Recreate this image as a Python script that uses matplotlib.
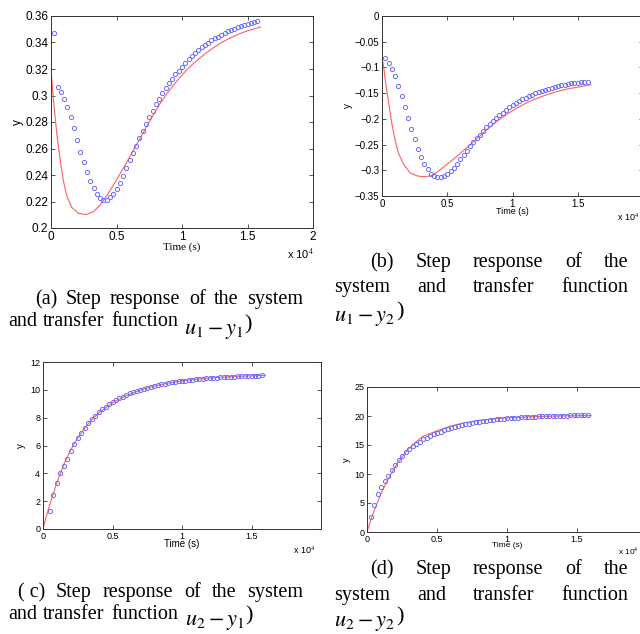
import numpy as np
import matplotlib
matplotlib.use("Agg")
import matplotlib.pyplot as plt

# ---------------- data ----------------
# sampling grid of the measured system response (s)
t_circ = np.arange(1, 64) * 250.0

# (a) u1 -> y1
a_sys = [0.3469, 0.3067, 0.3024, 0.2974, 0.2916, 0.2835, 0.2752, 0.2664, 0.2576, 0.2496,
         0.2420, 0.2355, 0.2299, 0.2257, 0.2229, 0.2214, 0.2214, 0.2231, 0.2257, 0.2292,
         0.2337, 0.2392, 0.2450, 0.2513, 0.2563, 0.2621, 0.2679, 0.2732, 0.2785, 0.2835,
         0.2886, 0.2933, 0.2974, 0.3016, 0.3057, 0.3092, 0.3127, 0.3160, 0.3187, 0.3218,
         0.3248, 0.3273, 0.3298, 0.3323, 0.3343, 0.3363, 0.3381, 0.3399, 0.3416, 0.3431,
         0.3444, 0.3459, 0.3472, 0.3484, 0.3494, 0.3504, 0.3514, 0.3525, 0.3532, 0.3540,
         0.3547, 0.3552, 0.3560]
a_tf_t = [0, 180, 430, 690, 940, 1200, 1580, 2090, 2680, 3240, 3750, 4260, 4770, 5280,
          5790, 6300, 6810, 7320, 7830, 8340, 8850, 9360, 9870, 10380, 10890, 11400,
          11910, 12420, 12930, 13440, 13950, 14460, 14970, 15480, 16000]
a_tf = [0.3200, 0.2974, 0.2722, 0.2521, 0.2357, 0.2244, 0.2156, 0.2111, 0.2101, 0.2123,
        0.2174, 0.2244, 0.2325, 0.2410, 0.2498, 0.2589, 0.2679, 0.2770, 0.2858, 0.2941,
        0.3014, 0.3079, 0.3140, 0.3195, 0.3243, 0.3286, 0.3326, 0.3361, 0.3394, 0.3422,
        0.3447, 0.3469, 0.3487, 0.3502, 0.3517]

# (b) u1 -> y2
b_sys = [-0.0815, -0.0912, -0.1022, -0.1164, -0.1352, -0.1559, -0.1772, -0.1979, -0.2193, -0.2387,
         -0.2581, -0.2736, -0.2878, -0.2982, -0.3066, -0.3118, -0.3137, -0.3137, -0.3118, -0.3073,
         -0.3021, -0.2956, -0.2878, -0.2788, -0.2704, -0.2620, -0.2529, -0.2445, -0.2374, -0.2309,
         -0.2232, -0.2161, -0.2102, -0.2051, -0.1992, -0.1934, -0.1882, -0.1831, -0.1779, -0.1734,
         -0.1695, -0.1656, -0.1617, -0.1585, -0.1552, -0.1527, -0.1501, -0.1475, -0.1449, -0.1430,
         -0.1410, -0.1391, -0.1371, -0.1358, -0.1346, -0.1333, -0.1320, -0.1307, -0.1301, -0.1294,
         -0.1288, -0.1283, -0.1278]
b_tf_t = [0, 127, 250, 500, 750, 1000, 1250, 1650, 2150, 2700, 3200, 3700, 4200, 4700, 5200,
          5700, 6200, 6700, 7200, 7700, 8200, 8700, 9200, 9700, 10200, 10700, 11200, 11700,
          12200, 12700, 13200, 13700, 14200, 14700, 15200, 16000]
b_tf = [-0.080, -0.099, -0.125, -0.167, -0.209, -0.241, -0.266, -0.288, -0.305, -0.311,
        -0.3125, -0.311, -0.304, -0.294, -0.284, -0.2735, -0.2625, -0.2515, -0.240, -0.229,
        -0.2175, -0.207, -0.1975, -0.189, -0.181, -0.174, -0.1675, -0.162, -0.157, -0.1525,
        -0.1485, -0.145, -0.142, -0.1395, -0.1375, -0.1335]

# (c) u2 -> y1 (first visible sample at t=500)
c_sys = [1.31, 2.43, 3.34, 4.01, 4.56, 5.04, 5.61, 6.13, 6.56, 6.92,
         7.28, 7.61, 7.88, 8.14, 8.38, 8.59, 8.78, 8.95, 9.12, 9.26,
         9.40, 9.52, 9.63, 9.74, 9.83, 9.92, 10.00, 10.08, 10.15, 10.22,
         10.28, 10.34, 10.39, 10.44, 10.49, 10.53, 10.57, 10.61, 10.64, 10.67,
         10.70, 10.73, 10.76, 10.78, 10.80, 10.82, 10.84, 10.86, 10.88, 10.89,
         10.91, 10.92, 10.93, 10.95, 10.96, 10.97, 10.98, 10.99, 11.00, 11.01,
         11.02, 11.03]
c_tf_t = [0, 250, 500, 1000, 1500, 2000, 2500, 3000, 3500, 4000, 5000, 6000, 7000,
          8000, 9000, 10000, 11000, 12000, 13000, 14000, 15000, 16000]
c_tf = [0, 0.95, 1.80, 3.35, 4.65, 5.70, 6.55, 7.25, 7.85, 8.33, 9.08, 9.58, 9.98,
        10.27, 10.48, 10.64, 10.76, 10.85, 10.92, 10.97, 11.01, 11.04]

# (d) u2 -> y2
d_sys = [2.56, 4.67, 6.50, 7.69, 8.77, 9.69, 10.71, 11.62, 12.36, 13.11,
         13.73, 14.30, 14.76, 15.21, 15.56, 15.95, 16.24, 16.58, 16.87, 17.09,
         17.32, 17.55, 17.72, 17.95, 18.12, 18.29, 18.40, 18.58, 18.69, 18.80,
         18.92, 19.03, 19.09, 19.20, 19.26, 19.37, 19.43, 19.49, 19.54, 19.60,
         19.65, 19.69, 19.73, 19.77, 19.81, 19.84, 19.87, 19.90, 19.92, 19.95,
         19.97, 19.99, 20.01, 20.03, 20.05, 20.06, 20.08, 20.09, 20.10, 20.11,
         20.12, 20.13, 20.14]
d_tf_t = [0, 250, 500, 1000, 1500, 2000, 2500, 3000, 3500, 4000, 5000, 6000, 7000,
          8000, 9000, 10000, 12000, 14000, 16000]
d_tf = [0, 1.85, 3.60, 6.60, 9.10, 11.20, 12.95, 14.40, 15.55, 16.50, 17.45, 18.30,
        18.85, 19.25, 19.50, 19.68, 19.90, 20.02, 20.08]

a_yticks = [0.2, 0.22, 0.24, 0.26, 0.28, 0.3, 0.32, 0.34, 0.36]
b_yticks = [-0.35, -0.3, -0.25, -0.2, -0.15, -0.1, -0.05, 0]
c_yticks = [0, 2, 4, 6, 8, 10, 12]
d_yticks = [0, 5, 10, 15, 20, 25]
x_ticks = [0, 0.5, 1, 1.5, 2]

captions = {
    "a": ["(a) Step response of the system", "and transfer function", r"$u_1 - y_1$"],
    "b": ["(b) Step response of the", "system and transfer function", r"$u_1 - y_2$"],
    "c": ["( c) Step response of the system", "and transfer function", r"$u_2 - y_1$"],
    "d": ["(d) Step response of the", "system and transfer function", r"$u_2 - y_2$"],
}

# ---------------- figure ----------------
W, H = 640, 634
plt.rcParams["mathtext.fontset"] = "stix"
fig = plt.figure(figsize=(W / 100, H / 100), dpi=100)

SANS = "Liberation Sans"
SERIF = "Liberation Serif"
BLUE = "#6b6bff"
RED = "#ff5f5f"


def px_axes(l, t, r, b):
    return fig.add_axes([l / W, 1 - b / H, (r - l) / W, (b - t) / H])


def fmt(v):
    s = "%g" % v
    return s.replace("-", "\u2212")


def style(ax, ylim, yticks, tick_fs, xlabels):
    ax.set_xlim(0, 2)
    ax.set_ylim(*ylim)
    ax.set_xticks(x_ticks)
    ax.set_xticklabels(xlabels, fontsize=tick_fs, family=SANS)
    ax.set_yticks(yticks)
    ax.set_yticklabels([fmt(v) for v in yticks], fontsize=tick_fs, family=SANS)
    ax.tick_params(direction="in", length=3, width=0.6, top=True, right=True,
                   pad=2, color="#333333")
    for s in ax.spines.values():
        s.set_linewidth(0.7)
        s.set_color("#333333")


def draw(ax, sys_t, sys_v, tf_t, tf_v):
    ax.plot(np.asarray(tf_t) / 1e4, tf_v, color=RED, lw=0.8)
    ax.plot(np.asarray(sys_t) / 1e4, sys_v, "o", mfc="none", mec=BLUE,
            ms=3.0, mew=0.7)


# (a)
ax_a = px_axes(51, 16, 313, 228)
draw(ax_a, t_circ, a_sys, a_tf_t, a_tf)
style(ax_a, (0.2, 0.36), a_yticks, 8.5, ["0", "0.5", "1", "1.5", "2"])
ax_a.set_xlabel("Time (s)", family=SERIF, fontsize=8, labelpad=0)
ax_a.set_ylabel("y", family=SANS, fontsize=8.5, labelpad=1)

# (b)
ax_b = px_axes(382, 16, 643, 196)
draw(ax_b, t_circ, b_sys, b_tf_t, b_tf)
style(ax_b, (-0.35, 0), b_yticks, 7, ["0", "0.5", "1", "1.5", ""])
ax_b.set_xlabel("Time (s)", family=SANS, fontsize=6.5, labelpad=-1)
ax_b.set_ylabel("y", family=SANS, fontsize=7, labelpad=1)

# (c)
ax_c = px_axes(43, 362, 321, 529)
draw(ax_c, t_circ[1:], c_sys, c_tf_t, c_tf)
style(ax_c, (0, 12), c_yticks, 6.5, ["0", "0.5", "1", "1.5", ""])
ax_c.set_xlabel("Time (s)", family=SANS, fontsize=7, labelpad=-1)
ax_c.set_ylabel("y", family=SANS, fontsize=7, labelpad=3)

# (d)
ax_d = px_axes(367, 387, 647, 532)
draw(ax_d, t_circ, d_sys, d_tf_t, d_tf)
style(ax_d, (0, 25), d_yticks, 6.5, ["0", "0.5", "1", "1.5", ""])
ax_d.set_xlabel("Time (s)", family=SANS, fontsize=6, labelpad=-1)
ax_d.set_ylabel("y", family=SANS, fontsize=6.5, labelpad=2)


def ftext(x, y, s, **kw):
    return fig.text(x / W, 1 - y / H, s, **kw)


# exponent labels
ftext(287, 259, r"x 10$^{4}$", family=SANS, fontsize=8, va="baseline")
ftext(617, 221, r"x 10$^{4}$", family=SANS, fontsize=6.5, va="baseline")
ftext(293, 554, r"x 10$^{4}$", family=SANS, fontsize=6.5, va="baseline")
ftext(618, 555, r"x 10$^{4}$", family=SANS, fontsize=6, va="baseline")

# captions
CAP = 14.5
MATH = 16
renderer = fig.canvas.get_renderer()


def justify(text, x0, x1, yb):
    if text.startswith("( "):
        words = ["( c)"] + text.split(" ")[2:]
    else:
        words = text.split(" ")
    objs = [ftext(0, yb, w, family=SERIF, fontsize=CAP, va="baseline") for w in words]
    widths = [o.get_window_extent(renderer).width for o in objs]
    gap = (x1 - x0 - sum(widths)) / max(len(words) - 1, 1)
    x = x0
    for o, w in zip(objs, widths):
        o.set_position((x / W, 1 - yb / H))
        x += w + gap


def mathpart(s, x, yb, drop=8):
    m = ftext(x, yb + drop, s, fontsize=MATH, va="baseline")
    wm = m.get_window_extent(renderer).width
    ftext(x + wm + 1, yb + drop - 5, ")", family=SERIF, fontsize=MATH, va="baseline")


# (a)
justify(captions["a"][0], 35, 303, 304)
justify(captions["a"][1], 8, 178, 326)
mathpart(captions["a"][2], 184, 326)
# (b)
justify(captions["b"][0], 370, 628, 267)
justify(captions["b"][1], 334, 628, 292)
mathpart(captions["b"][2], 334, 313)
# (c)
justify(captions["c"][0], 18, 303, 597)
justify(captions["c"][1], 8, 178, 619)
mathpart(captions["c"][2], 185, 619, drop=6)
# (d)
justify(captions["d"][0], 370, 628, 574)
justify(captions["d"][1], 334, 628, 600)
mathpart(captions["d"][2], 334, 622, drop=4)

fig.savefig("out.png", dpi=100)
